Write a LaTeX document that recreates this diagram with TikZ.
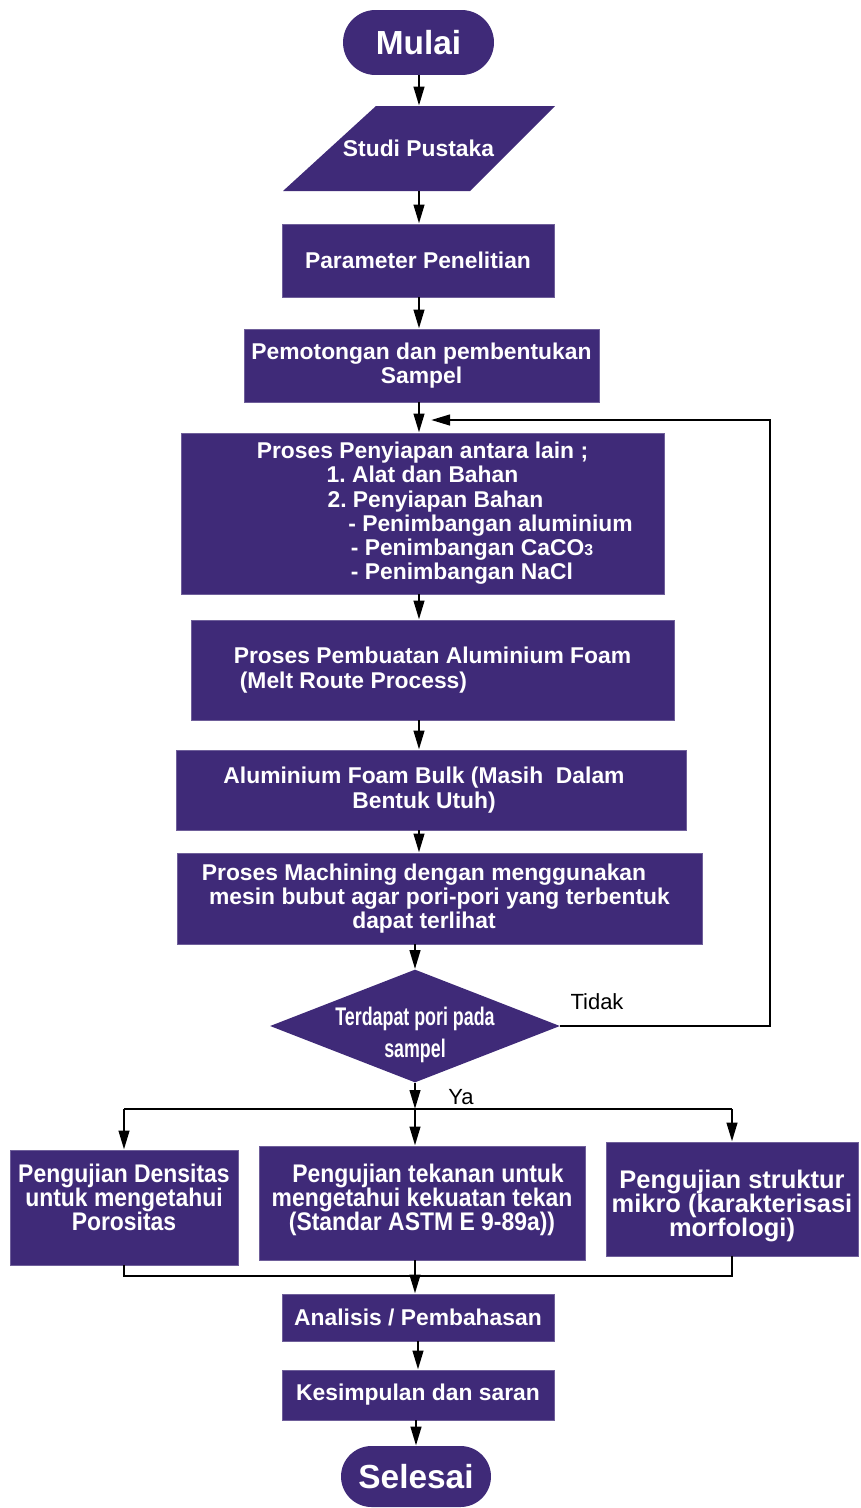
\documentclass[tikz,border=0pt]{standalone}
\usepackage{fontspec}
\setmainfont{Liberation Sans}
\newfontfamily\narrowfont[FakeStretch=0.7]{Liberation Sans}
\newfontfamily\condfont[FakeStretch=0.9]{Liberation Sans}
\usetikzlibrary{shapes.misc,shapes.geometric}
\usetikzlibrary{arrows.meta}
\definecolor{flowpurple}{HTML}{3F2A78}
\frenchspacing

\tikzset{
  boxtext/.style={font=\bfseries\fontsize{13}{13.8}\selectfont},
  procbox/.style={rectangle, fill=flowpurple, draw=flowpurple!75!white, line width=0.5pt,
    text=white, boxtext, align=center, inner sep=0pt},
  termbox/.style={rounded rectangle, fill=flowpurple, text=white,
    font=\bfseries\fontsize{19}{22}\selectfont, inner sep=0pt},
  testbox/.style={procbox, font=\condfont\bfseries\fontsize{14.5}{13.6}\selectfont},
  dectext/.style={text=white, align=center, inner sep=0pt,
    font=\narrowfont\bfseries\fontsize{14.5}{18}\selectfont},
  flowline/.style={black, line width=1.5pt},
  flowarrow/.style={flowline, -{Triangle[length=0.38cm,width=0.21cm]}},
  branchlabel/.style={font=\fontsize{12.5}{14}\selectfont, inner sep=0pt}
}

\begin{document}
\begin{tikzpicture}[x=0.02cm, y=-0.02cm]
\useasboundingbox (0,0) rectangle (861,1508);
\node[termbox, minimum width=3.02cm, minimum height=1.3cm] (mulai) at (418.5,42.5) {Mulai};
\fill[flowpurple] (283,191) -- (376,106) -- (555,106) -- (470,191) -- cycle;
\node[boxtext, text=white, minimum height=1.7cm, inner sep=0pt] (studi) at (418.5,148.5) {Studi Pustaka};
\node[procbox, minimum width=5.44cm, minimum height=1.46cm] (param) at (418,260.5) {Parameter Penelitian};
\node[procbox, minimum width=7.1cm, minimum height=1.46cm] (potong) at (421.5,365.5)
  {Pemotongan dan pembentukan\\Sampel};
\node[procbox, minimum width=9.66cm, minimum height=3.22cm] (siap) at (422.5,513.5)
  {Proses Penyiapan antara lain ;\\
   1. Alat dan Bahan\hspace*{0.26cm}\\
   \hspace*{0.52cm}2. Penyiapan Bahan\\
   \hspace*{2.72cm}- Penimbangan aluminium\\
   \hspace*{1.98cm}- Penimbangan CaCO{\fontsize{9}{9}\selectfont 3}\\
   \hspace*{1.58cm}- Penimbangan NaCl};
\node[procbox, align=left, minimum width=9.66cm, minimum height=2cm] (buat) at (432.5,670)
  {Proses Pembuatan Aluminium Foam\\\hspace*{0.12cm}(Melt Route Process)};
\node[procbox, minimum width=10.2cm, minimum height=1.6cm] (bulk) at (431,790)
  {Aluminium Foam Bulk (Masih\ \ Dalam\hspace*{0.28cm}\\Bentuk Utuh)\hspace*{0.28cm}};
\node[procbox, minimum width=10.5cm, minimum height=1.82cm] (mach) at (439.5,898.5)
  {Proses Machining dengan menggunakan\hspace*{0.62cm}\\
   mesin bubut agar pori-pori yang terbentuk\hspace*{0.62cm}\\
   dapat terlihat\hspace*{0.62cm}};
\node[diamond, fill=flowpurple, inner sep=0pt,
  minimum width=5.8cm, minimum height=2.26cm] (dec) at (415,1026) {};
\node[dectext] (decq) at (415,1035) {Terdapat pori pada\\sampel};
\node[branchlabel] (tidak) at (597,1002) {Tidak};
\node[branchlabel] (ya) at (461,1097) {Ya};
\node[testbox, minimum width=4.56cm, minimum height=2.3cm] (densitas) at (124,1207.5)
  {Pengujian Densitas\\untuk mengetahui\\Porositas\rule[-0.4cm]{0pt}{0.4cm}};
\node[testbox, minimum width=6.52cm, minimum height=2.28cm] (tekan) at (422,1203)
  {\hspace*{0.24cm}Pengujian tekanan untuk\\mengetahui kekuatan tekan\\(Standar ASTM E 9-89a))\rule[-0.24cm]{0pt}{0.24cm}};
\node[testbox, font=\bfseries\fontsize{14.5}{13.6}\selectfont,
  minimum width=5.04cm, minimum height=2.28cm] (mikro) at (732,1199)
  {\rule{0pt}{0.64cm}Pengujian struktur\\mikro (karakterisasi\\morfologi)};
\node[procbox, minimum width=5.44cm, minimum height=0.94cm] (anal) at (418,1317.5) {Analisis / Pembahasan};
\node[procbox, minimum width=5.44cm, minimum height=1cm] (simp) at (418,1395) {Kesimpulan dan saran};
\node[termbox, minimum width=3cm, minimum height=1.22cm] (selesai) at (416,1476.5) {Selesai};
\coordinate (spine) at (419,0);
\coordinate (loopcorner) at (770,420);
\coordinate (loopend) at (431,420);
\coordinate (split) at (415,1109);
\coordinate (merge) at (415,1276);
\draw[flowarrow] (spine |- mulai.south) -- (spine |- studi.north);
\draw[flowarrow] (spine |- studi.south) -- (spine |- param.north);
\draw[flowarrow] (spine |- param.south) -- (spine |- potong.north);
\draw[flowarrow] (spine |- potong.south) -- (spine |- siap.north);
\draw[flowarrow] (spine |- siap.south) -- (spine |- buat.north);
\draw[flowarrow] (spine |- buat.south) -- (spine |- bulk.north);
\draw[flowarrow] (spine |- bulk.south) -- (spine |- mach.north);
\draw[flowarrow] (dec.north |- mach.south) -- (dec.north);
\draw[flowarrow] (dec.east) -| (loopcorner) -- (loopend);
\draw[flowarrow] (dec.south) -- (split);
\draw[flowline] (densitas.north |- split) -- (mikro.north |- split);
\draw[flowarrow] (densitas.north |- split) -- (densitas.north);
\draw[flowarrow] (split) -- (split |- tekan.north);
\draw[flowarrow] (mikro.north |- split) -- (mikro.north);
\draw[flowline] (densitas.south) |- (merge) -| (mikro.south);
\draw[flowarrow] (split |- tekan.south) -- (split |- anal.north);
\draw[flowarrow] (anal.south) -- (simp.north);
\draw[flowarrow] (selesai.north |- simp.south) -- (selesai.north);
\end{tikzpicture}
\end{document}
